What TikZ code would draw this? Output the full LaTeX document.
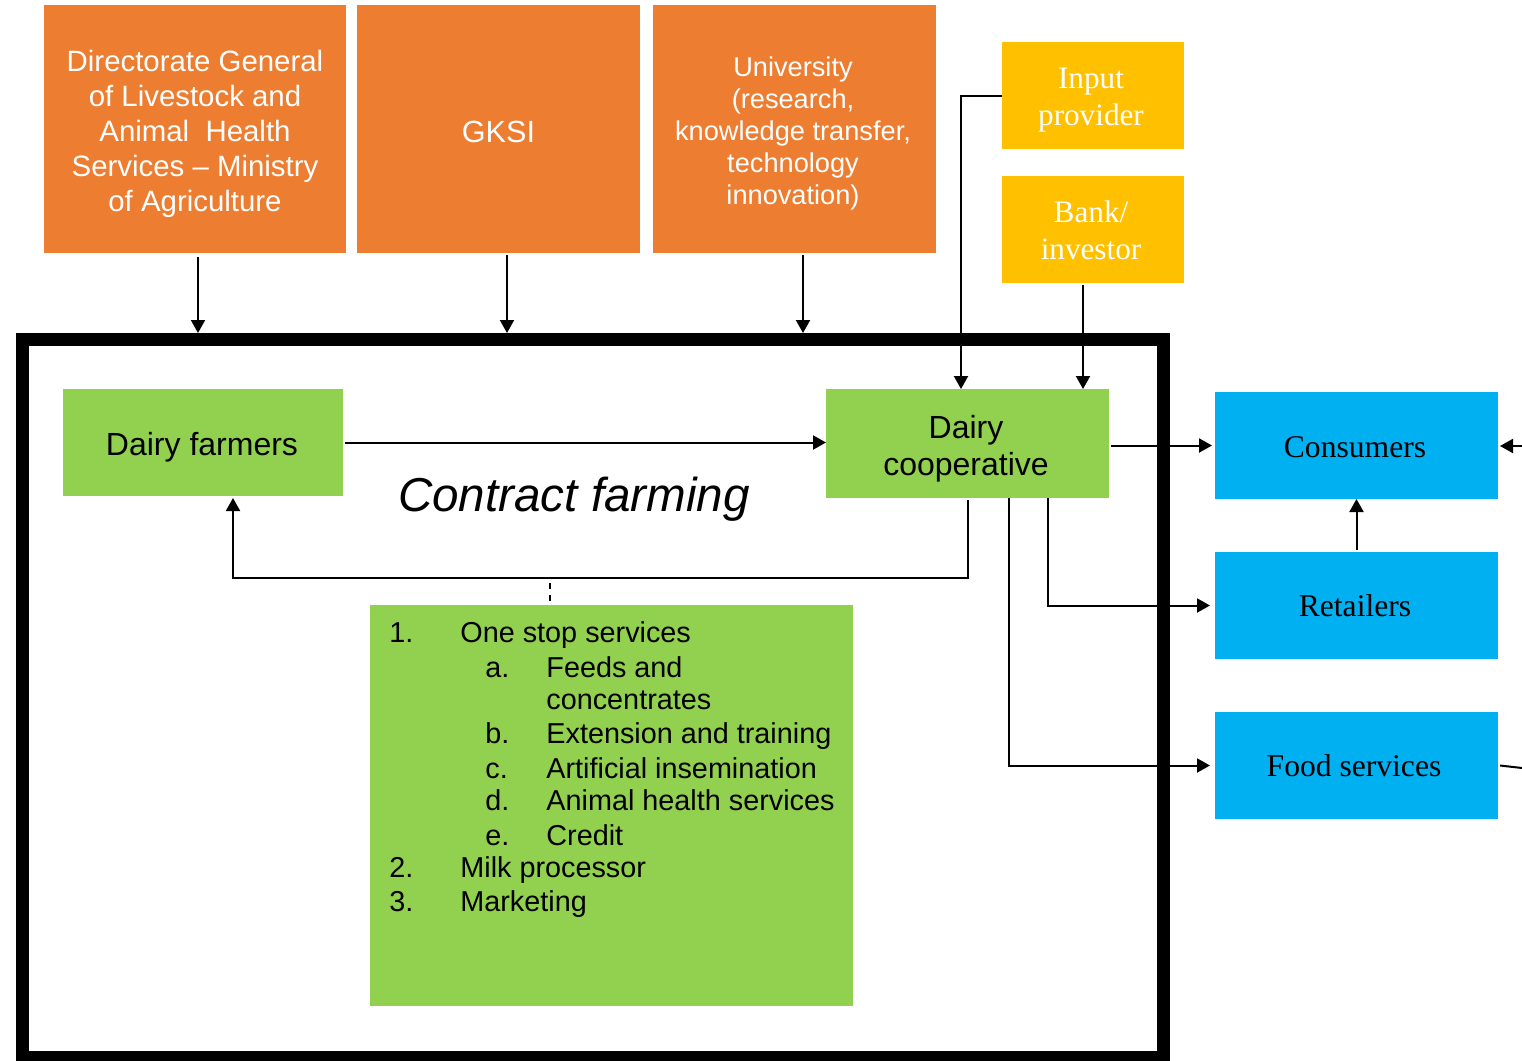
\documentclass[tikz,border=0pt]{standalone}
\usepackage{fontspec}
\setmainfont{Liberation Sans}
\newfontfamily\timesf{Liberation Serif}
\usetikzlibrary{arrows.meta,calc}
\definecolor{orng}{HTML}{ED7D31}
\definecolor{yelw}{HTML}{FFC000}
\definecolor{grn}{HTML}{92D050}
\definecolor{blu}{HTML}{00B0F0}
\tikzset{
  box/.style={inner sep=0pt, outer sep=0pt},
  txt/.style={inner sep=0pt, align=center},
  obox/.style={box, fill=orng, minimum height=124pt},
  otxt/.style={txt, text=white},
  ybox/.style={box, fill=yelw, minimum width=91pt, minimum height=53.5pt},
  ytxt/.style={txt, text=white, font=\timesf\fontsize{15.6}{18.5}\selectfont},
  gbox/.style={box, fill=grn},
  gtxt/.style={txt, text=black, font=\fontsize{16}{18.5}\selectfont},
  bbox/.style={box, fill=blu, minimum width=141.5pt, minimum height=53.5pt},
  btxt/.style={txt, text=black, font=\timesf\fontsize{15.8}{18.5}\selectfont},
  litem/.style={anchor=base west, inner sep=0pt, font=\fontsize{14.4}{17}\selectfont},
  arr/.style={line width=1pt, -{Triangle[length=6.5pt,width=7pt]}},
  plain/.style={line width=1pt},
}
\begin{document}
\begin{tikzpicture}[x=0.5pt,y=-0.5pt]
\useasboundingbox (0,0) rectangle (1522,1061);
% frame
\node[draw, line width=6.5pt, minimum width=570.25pt, minimum height=358.75pt, inner sep=0pt] (frame) at (592.75,698.25) {};
% top orange boxes
\node[obox, minimum width=151pt] (dir) at (195,129) {};
\node[otxt, font=\fontsize{14.7}{17.5}\selectfont] (dirt) at (195,134)
  {Directorate General\\of Livestock and\\Animal\ \ Health\\Services -- Ministry\\of Agriculture};
\node[obox, minimum width=141.5pt] (gksi) at (498.5,129) {};
\node[otxt, font=\fontsize{15.3}{18}\selectfont] (gksit) at (498.5,132) {GKSI};
\node[obox, minimum width=141.5pt] (uni) at (794.5,129) {};
\node[otxt, font=\fontsize{13.6}{16}\selectfont] (unit) at (793,133)
  {University\\(research,\\knowledge transfer,\\technology\\innovation)};
% yellow
\node[ybox] (inp) at (1093,95.5) {};
\node[ytxt, font=\timesf\fontsize{15.6}{18.5}\selectfont] (inpt) at (1091,100) {Input\\provider};
\node[ybox] (bank) at (1093,229.5) {};
\node[ytxt] (bankt) at (1091,230) {Bank/\\investor};
% green
\node[gbox, minimum width=140pt, minimum height=53.5pt] (farm) at (203,442.5) {};
\node[gtxt] (farmt) at (202,447) {Dairy farmers};
\node[gbox, minimum width=141.5pt, minimum height=54.5pt] (coop) at (967.5,443.5) {};
\node[gtxt] (coopt) at (966,448.5) {Dairy\\cooperative};
\node[inner sep=0pt, font=\itshape\fontsize{23.8}{28}\selectfont] (cf) at (574,499) {Contract farming};
% blue
\node[bbox] (cons) at (1356.5,445.5) {};
\node[btxt] (const) at (1355,447.5) {Consumers};
\node[bbox] (ret) at (1356.5,605.5) {};
\node[btxt] (rett) at (1355,606) {Retailers};
\node[bbox] (food) at (1356.5,765.5) {};
\node[btxt] (foodt) at (1354,766) {Food services};
% list box
\node[box, fill=grn, minimum width=241.5pt, minimum height=200.5pt] (list) at (611.5,805.5) {};
\node[litem] (n1) at (389,642) {1.};
\node[litem] (t1) at (460,642) {One stop services};
\node[litem] (la) at (485,677) {a.};
\node[litem] (ta) at (546,677) {Feeds and};
\node[litem] (ta2) at (546,709) {concentrates};
\node[litem] (lb) at (485,743) {b.};
\node[litem] (tb) at (546,743) {Extension and training};
\node[litem] (lc) at (485,778) {c.};
\node[litem] (tc) at (546,778) {Artificial insemination};
\node[litem] (ld) at (485,810) {d.};
\node[litem] (td) at (546,810) {Animal health services};
\node[litem] (le) at (485,845) {e.};
\node[litem] (te) at (546,845) {Credit};
\node[litem] (n2) at (389,877) {2.};
\node[litem] (t2) at (460,877) {Milk processor};
\node[litem] (n3) at (389,911) {3.};
\node[litem] (t3) at (460,911) {Marketing};
% arrows from top boxes
\draw[arr, shorten <=2pt] ([xshift=1.5pt]dir.south) -- ([xshift=1.5pt]dir.south |- frame.north);
\draw[arr, shorten <=1pt] ([xshift=4.25pt]gksi.south) -- ([xshift=4.25pt]gksi.south |- frame.north);
\draw[arr, shorten <=1pt] ([xshift=4.25pt]uni.south) -- ([xshift=4.25pt]uni.south |- frame.north);
\draw[arr] (inp.west) -| ([xshift=-3.25pt]coop.north);
\draw[arr, shorten <=1pt] ([xshift=-5pt]bank.south) -- ([xshift=-5pt]bank.south |- coop.north);
% farmers <-> coop
\draw[arr] ([xshift=1pt]farm.east) -- (farm.east -| coop.west);
\coordinate (back) at (233,578);
\draw[arr] ([yshift=-1pt]coop.south) |- (back) -- ([yshift=-1pt]back |- farm.south);
\coordinate (dtop) at (550,583);
\draw[dashed, line width=1pt] (dtop) -- (dtop |- list.north);
% coop to market
\draw[arr] ([xshift=1pt]coop.east |- cons.west) -- ([xshift=-1.5pt]cons.west);
\draw[arr] ([xshift=40.25pt]coop.south) |- ([xshift=-2.5pt]ret.west);
\draw[arr] ([xshift=20.75pt]coop.south) |- ([xshift=-2.5pt]food.west);
\draw[arr, shorten <=1pt] (ret.north) -- (cons.south);
\coordinate (rin) at (1522,446);
\draw[arr] (rin) -- ([xshift=1pt]rin -| cons.east);
\coordinate (rout) at (1522,768);
\draw[plain] ([xshift=1pt]food.east) -- (rout);
\end{tikzpicture}
\end{document}
